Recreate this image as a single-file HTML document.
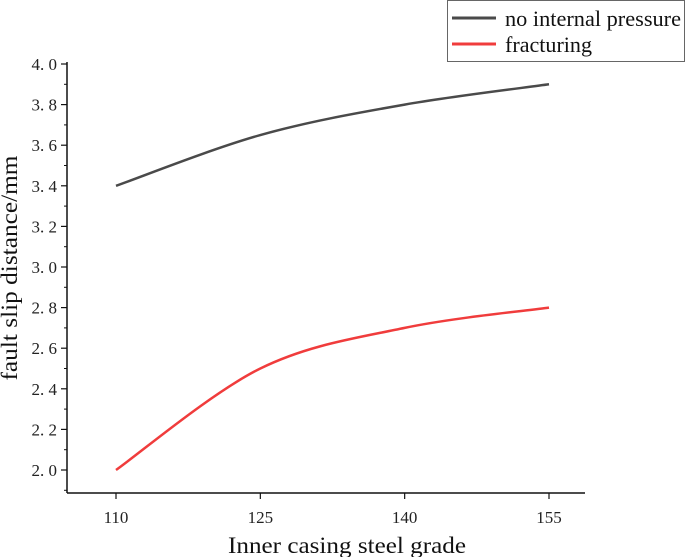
<!DOCTYPE html>
<html><head><meta charset="utf-8"><style>
html,body{margin:0;padding:0;background:#fff;}
svg{display:block;font-family:"Liberation Serif","Noto Serif CJK SC",serif;}
</style></head><body>
<svg id="chart" width="685" height="557" viewBox="0 0 685 557">
<g id="axes"></g>
<g id="series"></g>
<text x="17" y="268" transform="rotate(-90 17 268)" text-anchor="middle" font-size="23" textLength="225" lengthAdjust="spacingAndGlyphs" fill="#111">fault slip distance/mm</text>
<text x="347" y="553" text-anchor="middle" font-size="23" textLength="238" lengthAdjust="spacingAndGlyphs" fill="#111">Inner casing steel grade</text>
<g>
<rect x="447.5" y="0.5" width="237" height="61" fill="#fff" stroke="#666" stroke-width="1"/>
<g>
<line x1="452" y1="18" x2="496" y2="18" stroke="#4a4a4a" stroke-width="3"/>
<text x="505" y="26" font-size="22" textLength="176" lengthAdjust="spacingAndGlyphs" fill="#111">no internal pressure</text>
</g>
<g>
<line x1="452" y1="44" x2="496" y2="44" stroke="#f03c3c" stroke-width="3"/>
<text x="505" y="52" font-size="22" textLength="87" lengthAdjust="spacingAndGlyphs" fill="#111">fracturing</text>
</g>
</g>
</svg>
<script>
const categories = [110, 125, 140, 155];
const noPressure = [3.4, 3.65, 3.8, 3.9];
const fracturing = [2.0, 2.5, 2.7, 2.8];
const yTicks = [2.0, 2.2, 2.4, 2.6, 2.8, 3.0, 3.2, 3.4, 3.6, 3.8, 4.0];
const yTickLabels = ["2. 0","2. 2","2. 4","2. 6","2. 8","3. 0","3. 2","3. 4","3. 6","3. 8","4. 0"];
const xTickLabels = ["110","125","140","155"];

const NS = "http://www.w3.org/2000/svg";
const X0 = 67, X1 = 585, Y0 = 493, YTOP = 62;
function xs(v){ return 116 + (v - 110) / 45 * (549 - 116); }
function ys(v){ return 470 - (v - 2.0) / 2.0 * (470 - 64); }
function mk(tag, attrs, parent){ const e = document.createElementNS(NS, tag); for (const k in attrs) e.setAttribute(k, attrs[k]); parent.appendChild(e); return e; }
const axes = document.getElementById('axes');
const series = document.getElementById('series');

let el = mk('line', {x1:X0, y1:YTOP, x2:X0, y2:Y0, stroke:'#111', 'stroke-width':1.5}, axes);


el = mk('line', {x1:X0, y1:Y0, x2:X1, y2:Y0, stroke:'#111', 'stroke-width':1.5}, axes);



yTicks.forEach((t, i) => {
  const y = ys(t);
  mk('line', {x1:X0, y1:y, x2:X0-6, y2:y, stroke:'#111', 'stroke-width':1.2}, axes);
  const m = ys(t + 0.1);
  if (i < yTicks.length - 1) mk('line', {x1:X0, y1:m, x2:X0-3, y2:m, stroke:'#111', 'stroke-width':1}, axes);
  const tx = mk('text', {x:X0-10, y:y+6, 'text-anchor':'end', 'font-size':17, fill:'#222'}, axes);
  tx.textContent = yTickLabels[i];
  
  
});
mk('line', {x1:X0, y1:ys(1.9), x2:X0-3, y2:ys(1.9), stroke:'#111', 'stroke-width':1}, axes);

categories.forEach((c, i) => {
  const x = xs(c);
  mk('line', {x1:x, y1:Y0, x2:x, y2:Y0+6, stroke:'#111', 'stroke-width':1.2}, axes);
  const tx = mk('text', {x:x, y:Y0+30, 'text-anchor':'middle', 'font-size':17, fill:'#222'}, axes);
  tx.textContent = xTickLabels[i];
  
  
});

function smoothPath(vals){
  const p = vals.map((v, i) => [xs(categories[i]), ys(v)]);
  let d = 'M' + p[0][0] + ',' + p[0][1];
  for (let i = 0; i < p.length - 1; i++) {
    const p0 = p[Math.max(0, i-1)], p1 = p[i], p2 = p[i+1], p3 = p[Math.min(p.length-1, i+2)];
    const c1x = p1[0] + (p2[0]-p0[0])/6, c1y = p1[1] + (p2[1]-p0[1])/6;
    const c2x = p2[0] - (p3[0]-p1[0])/6, c2y = p2[1] - (p3[1]-p1[1])/6;
    d += ' C' + c1x + ',' + c1y + ' ' + c2x + ',' + c2y + ' ' + p2[0] + ',' + p2[1];
  }
  return d;
}
el = mk('path', {d:smoothPath(noPressure), fill:'none', stroke:'#4a4a4a', 'stroke-width':2.5}, series);


el = mk('path', {d:smoothPath(fracturing), fill:'none', stroke:'#f03c3c', 'stroke-width':2.5}, series);


</script>
</body></html>
